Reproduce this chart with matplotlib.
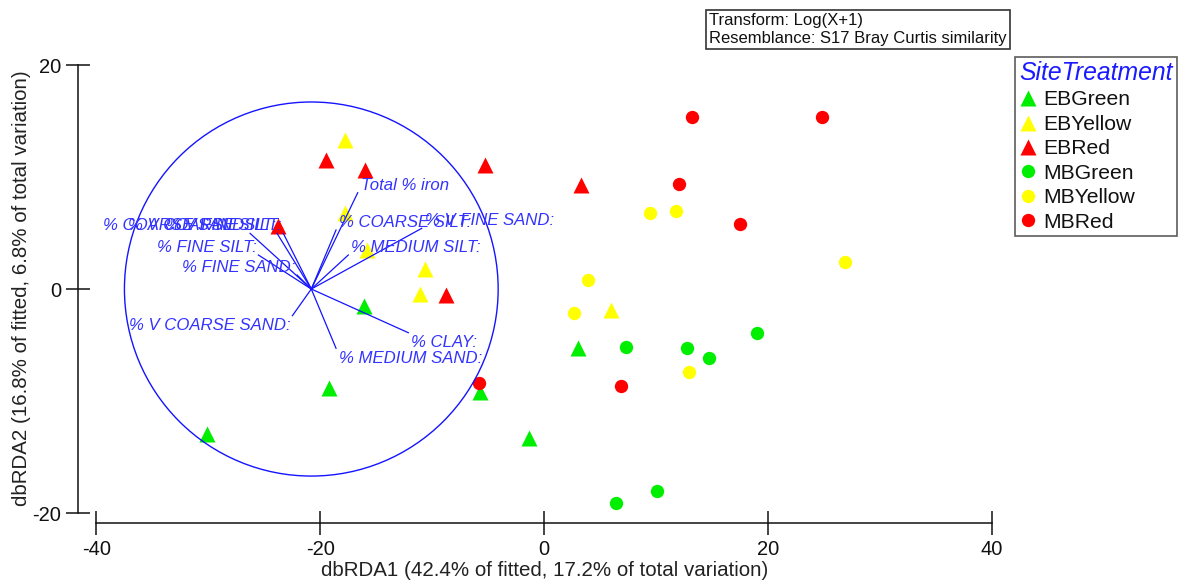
import matplotlib
matplotlib.use('Agg')
import matplotlib.pyplot as plt
from matplotlib.patches import Circle
from matplotlib.lines import Line2D

plt.rcParams['font.family'] = ['Liberation Sans', 'DejaVu Sans']

# ---------------- data ----------------
groups = ['EBGreen', 'EBYellow', 'EBRed', 'MBGreen', 'MBYellow', 'MBRed']
group_markers = ['^', '^', '^', 'o', 'o', 'o']
group_colors = ['#00ee00', '#ffff00', '#ff0000', '#00ee00', '#ffff00', '#ff0000']

eb_green_x = [-30.1, -19.2, -16.1, -5.7, -1.3, 3.0]
eb_green_y = [-12.9, -8.8, -1.5, -9.2, -13.3, -5.3]
eb_yellow_x = [-17.8, -17.8, -15.8, -10.6, -11.1, 6.0]
eb_yellow_y = [13.3, 6.8, 3.5, 1.8, -0.4, -1.9]
eb_red_x = [-19.5, -16.0, -5.3, 3.3, -23.8, -8.8]
eb_red_y = [11.5, 10.6, 11.1, 9.3, 5.6, -0.5]
mb_green_x = [7.3, 12.8, 14.7, 19.0, 10.1, 6.4]
mb_green_y = [-5.2, -5.3, -6.2, -3.9, -18.0, -19.1]
mb_yellow_x = [9.5, 11.8, 26.9, 3.9, 2.7, 13.0]
mb_yellow_y = [6.8, 7.0, 2.4, 0.8, -2.1, -7.4]
mb_red_x = [13.2, 24.8, 12.1, 17.5, -5.8, 6.9]
mb_red_y = [15.4, 15.4, 9.4, 5.8, -8.4, -8.7]

group_x = [eb_green_x, eb_yellow_x, eb_red_x, mb_green_x, mb_yellow_x, mb_red_x]
group_y = [eb_green_y, eb_yellow_y, eb_red_y, mb_green_y, mb_yellow_y, mb_red_y]

# vector overlay (origin, circle radius, vector ends)
vec_origin = (-20.8, 0.0)
circle_radius = 16.7
vec_labels = ['Total % iron', '% COARSE SILT:', '% MEDIUM SILT:', '% V FINE SAND:',
              '% COARSE SAND:', '% V COARSE SILT:', '% V FINE SILT:', '% FINE SILT:',
              '% FINE SAND:', '% V COARSE SAND:', '% CLAY:', '% MEDIUM SAND:']
vec_end_x = [-16.65, -18.59, -17.49, -10.93, -26.27, -23.86, -23.30, -25.53,
             -22.07, -22.49, -12.13, -18.59]
vec_end_y = [8.60, 5.27, 3.04, 5.42, 4.97, 4.97, 4.97, 3.04,
             1.25, -2.38, -3.90, -5.29]

x_ticks = [-40, -20, 0, 20, 40]
y_ticks = [-20, 0, 20]
x_label = 'dbRDA1 (42.4% of fitted, 17.2% of total variation)'
y_label = 'dbRDA2 (16.8% of fitted, 6.8% of total variation)'
info_text = 'Transform: Log(X+1)\nResemblance: S17 Bray Curtis similarity'
legend_title = 'SiteTreatment'

# ---------------- figure ----------------
W, H = 1186, 581
fig = plt.figure(figsize=(W / 100, H / 100), dpi=100)
ax = fig.add_axes([78.0 / W, (H - 523.1) / H, (1002.8 - 78.0) / W, (523.1 - 51.6) / H])
ax.set_xlim(-41.65, 41.0)
ax.set_ylim(-20.9, 21.2)

blue_line = '#1414ff'
blue_text = '#3333ff'

# markers
for gx, gy, m, c, name in zip(group_x, group_y, group_markers, group_colors, groups):
    ax.plot(gx, gy, ls='none', marker=m, ms=11 if m == '^' else 9.6,
            mfc=c, mec='none', zorder=2 if m == '^' else 2.5, label=name)

# circle and vectors
ax.add_patch(Circle(vec_origin, circle_radius, fill=False, ec=blue_line, lw=1.0, zorder=3))
for lab, ex, ey in zip(vec_labels, vec_end_x, vec_end_y):
    ax.plot([vec_origin[0], ex], [vec_origin[1], ey], color=blue_line, lw=0.9, zorder=3)
    dx = ex - vec_origin[0]
    dy = ey - vec_origin[1]
    ha = 'left' if dx > 0 else 'right'
    va = 'bottom' if dy > 0 else 'top'
    ax.annotate(lab, (ex, ey), xytext=(2 if dx > 0 else -1, 0 if dy > 0 else -2),
                textcoords='offset points', ha=ha, va=va, fontsize=12.1,
                style='italic', color=blue_text, zorder=4)

# axes styling
for s in ['top', 'right']:
    ax.spines[s].set_visible(False)
ax.spines['left'].set_bounds(-20, 20)
ax.spines['bottom'].set_bounds(-40, 40)
for s in ['left', 'bottom']:
    ax.spines[s].set_linewidth(1.1)
    ax.spines[s].set_color('#111111')
ax.set_xticks(x_ticks)
ax.set_yticks(y_ticks)
ax.set_xticklabels([str(v) for v in x_ticks])
ax.set_yticklabels([str(v) for v in y_ticks])
ax.tick_params(direction='inout', length=17, width=1.1, labelsize=14.5, pad=3.5,
               color='#111111', labelcolor='#111111')

fig.text(545 / W, 1 - 570 / H, x_label, ha='center', va='center', fontsize=14.8, color='#222222')
fig.text(22 / W, 1 - 288 / H, y_label, ha='center', va='center', rotation=90,
         fontsize=14.8, color='#222222')

# info box
fig.text(709 / W, 1 - 12.5 / H, info_text, ha='left', va='top', fontsize=12,
         color='#111111', linespacing=1.25,
         bbox=dict(boxstyle='square,pad=0.18', fc='white', ec='#333333', lw=1.2))

# legend
handles = [Line2D([], [], ls='none', marker=m, ms=11 if m == '^' else 9.6, mfc=c, mec='none')
           for m, c in zip(group_markers, group_colors)]
leg = fig.legend(handles, groups, loc='upper left',
                 bbox_to_anchor=(1015 / W, 1 - 56.7 / H), bbox_transform=fig.transFigure,
                 title=legend_title, title_fontproperties={'style': 'italic', 'size': 17.8},
                 fontsize=15.2, frameon=True, fancybox=False, borderpad=0.2,
                 labelspacing=0.26, handlelength=0.8, handletextpad=0.35, borderaxespad=0)
leg.get_title().set_color('#1a1aff')
leg._legend_box.align = 'left'
frame = leg.get_frame()
frame.set_edgecolor('#333333')
frame.set_linewidth(1.2)
for t in leg.get_texts():
    t.set_color('#111111')

fig.savefig('out.png', dpi=100)
